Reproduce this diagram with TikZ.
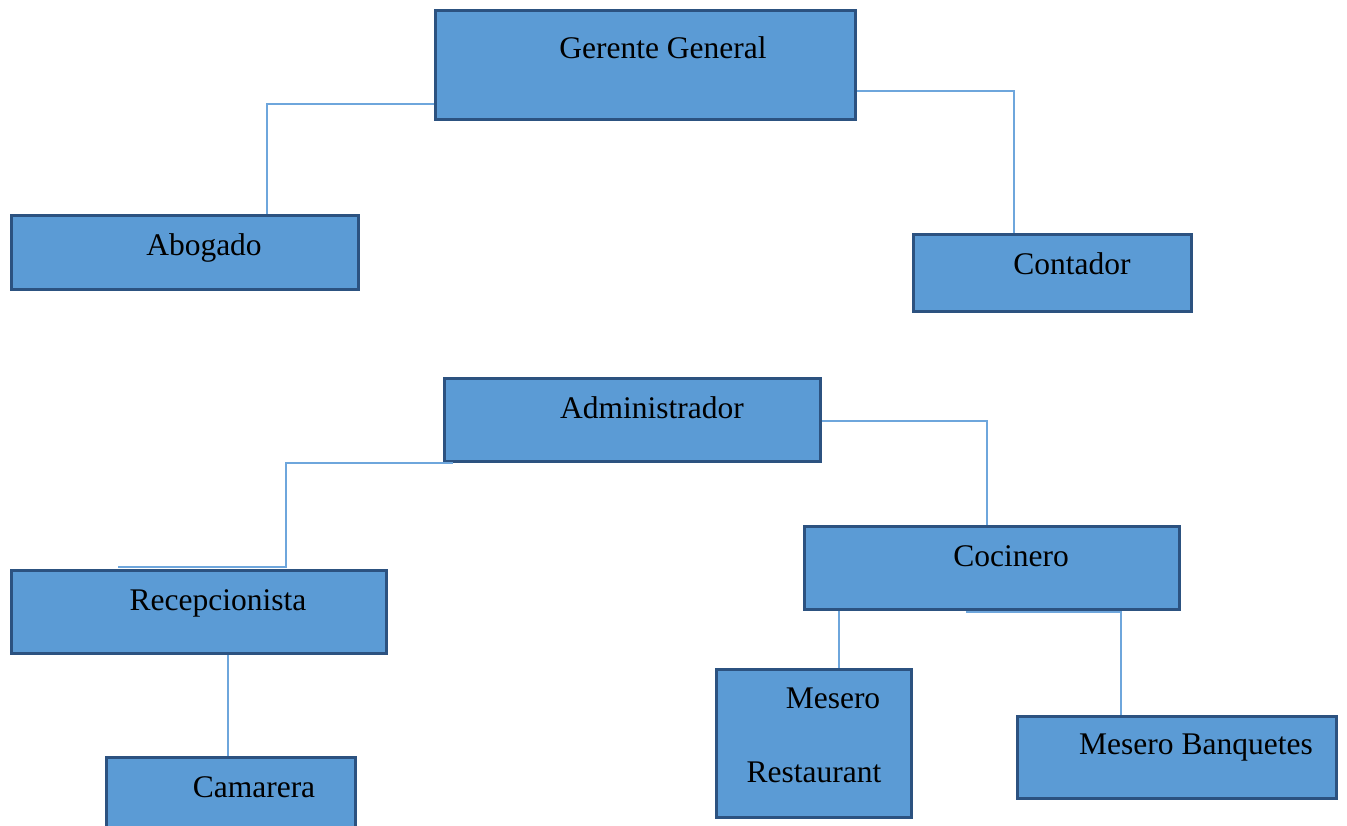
\documentclass[tikz,border=0pt]{standalone}
\usepackage{fontspec}
\setmainfont{Liberation Serif}
\usepackage{tikz}

\begin{document}
\begin{tikzpicture}[x=1pt, y=-1pt,
        box/.style={draw=boxline, fill=boxfill, line width=2.6pt, inner sep=0pt, anchor=north west},
        txt/.style={anchor=base, inner sep=0pt, font=\fontsize{31.5}{38}\selectfont},
        conn/.style={draw=connline, line width=1.3pt}]
            \xdefinecolor{boxfill}{RGB}{91, 155, 213}
            \xdefinecolor{boxline}{RGB}{44, 82, 128}
            \xdefinecolor{connline}{RGB}{110, 166, 220}
            \useasboundingbox (0, 0) rectangle (1347, 825);
            \clip (0, 0) rectangle (1347, 825);

            % Draw the boxes
            \node[box, minimum width=420.4pt, minimum height=109.4pt] (GG) at (434, 9) {};
            \node[box, minimum width=347.4pt, minimum height=74.4pt] (Abo) at (10, 214) {};
            \node[box, minimum width=278.4pt, minimum height=77.4pt] (Con) at (912, 233) {};
            \node[box, minimum width=376.4pt, minimum height=83.4pt] (Adm) at (443, 377) {};
            \node[box, minimum width=375.4pt, minimum height=83.4pt] (Rec) at (10, 569) {};
            \node[box, minimum width=249.4pt, minimum height=100pt] (Cam) at (105, 756) {};
            \node[box, minimum width=375.4pt, minimum height=83.4pt] (Coc) at (803, 525) {};
            \node[box, minimum width=195.4pt, minimum height=148.4pt] (MR) at (715, 668) {};
            \node[box, minimum width=319.4pt, minimum height=82.4pt] (MB) at (1016, 715) {};

            % Add the texts
            \node[txt] (GG-t) at (663, 58) {Gerente General};
            \node[txt] (Abo-t) at (204, 255) {Abogado};
            \node[txt] (Con-t) at (1072, 274) {Contador};
            \node[txt] (Adm-t) at (652, 418) {Administrador};
            \node[txt] (Rec-t) at (218, 610) {Recepcionista};
            \node[txt] (Cam-t) at (254, 797) {Camarera};
            \node[txt] (Coc-t) at (1011, 566) {Cocinero};
            \node[txt] (MR-t1) at (833, 708) {Mesero};
            \node[txt] (MR-t2) at (814, 782) {Restaurant};
            \node[txt] (MB-t) at (1196, 754) {Mesero Banquetes};

            % Connect the boxes
            \draw[conn] ([yshift=-39pt]GG.west) -| ([xshift=82pt]Abo.north);
            \draw[conn] ([yshift=-26pt]GG.east) -| ([xshift=-38.5pt]Con.north);
            \draw[conn] ([xshift=10pt]Adm.south west) -| ([xshift=87pt, yshift=2pt]Rec.north) -- ([xshift=-81pt, yshift=2pt]Rec.north);
            \draw[conn] ([yshift=-1pt]Adm.east) -| ([xshift=-5pt]Coc.north);
            \draw[conn] ([xshift=29pt]Rec.south) -- ([xshift=29pt]Rec.south |- Cam.north);
            \draw[conn] ([xshift=25pt]MR.north |- Coc.south) -- ([xshift=25pt]MR.north);
            \draw[conn] ([xshift=-26pt, yshift=-1pt]Coc.south) -| ([xshift=-56pt]MB.north);
\end{tikzpicture}
\end{document}
